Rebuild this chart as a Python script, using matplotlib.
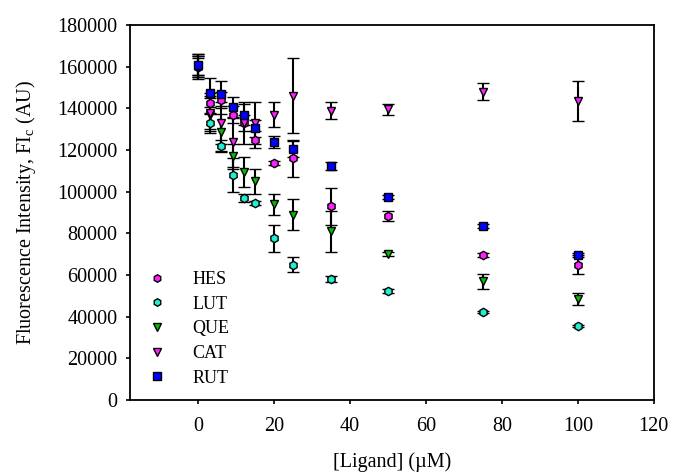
import matplotlib.pyplot as plt

# Concentracion de ligando (uM)
conc = [0, 3, 6, 9, 12, 15, 20, 25, 35, 50, 75, 100]

# Intensidad de fluorescencia por ligando
hes = [160000, 142500, 144000, 137000, 133000, 125000, 114000, 116000, 93000, 88500, 69500, 65000]
hes_err = [4000, 5000, 4000, 4000, 4000, 4000, 1000, 9000, 9000, 2500, 1000, 4500]

lut = [160000, 133000, 122000, 108000, 97000, 94500, 77700, 65000, 58000, 52500, 42500, 35700]
lut_err = [5000, 5000, 3000, 8000, 2000, 1000, 6500, 3500, 1500, 1000, 500, 500]

que = [160000, 137000, 128500, 117000, 109500, 105000, 94000, 89000, 81000, 70000, 57000, 48500]
que_err = [5000, 8000, 9000, 6000, 7000, 6000, 5000, 7500, 10000, 1000, 3500, 3000]

cat = [160000, 138000, 133000, 124000, 133000, 133000, 137000, 146000, 139000, 139500, 148000, 143500]
cat_err = [6000, 8000, 10000, 12000, 10000, 10000, 6000, 18000, 4000, 2500, 4000, 9500]

rut = [161000, 147600, 147000, 140500, 137000, 130500, 124000, 120500, 112500, 97500, 83500, 69500]
rut_err = [5000, 7000, 6000, 5000, 5000, 4000, 3000, 4000, 2000, 1000, 1000, 1000]

series = [
    ("HES", hes, hes_err, "h", "#ff20ff"),
    ("LUT", lut, lut_err, "h", "#20f0d0"),
    ("QUE", que, que_err, "v", "#00c000"),
    ("CAT", cat, cat_err, "v", "#ff20ff"),
    ("RUT", rut, rut_err, "s", "#0000ff"),
]

plt.rcParams["font.family"] = ["Liberation Serif", "DejaVu Serif"]

fig = plt.figure(figsize=(6.74, 4.73), dpi=100)
ax = fig.add_axes([0.193, 0.154, 0.777, 0.793])

for name, vals, errs, mk, col in series:
    ax.errorbar(conc, vals, yerr=errs, fmt=mk, color=col, markersize=6,
                markeredgecolor="black", markeredgewidth=1, ecolor="black",
                elinewidth=1.5, capsize=4, capthick=1.5, label=name)

ax.set_xlim(-18, 120)
ax.set_ylim(0, 180000)
ax.set_xticks(range(0, 121, 20))
ax.set_yticks(range(0, 180001, 20000))
ax.tick_params(direction="out", length=3, width=1.2, labelsize=14.5)
ax.tick_params(axis="x", pad=9)
ax.tick_params(axis="y", pad=6)
for s in ax.spines.values():
    s.set_linewidth(1.3)

ax.set_xlabel("[Ligand] (µM)", fontsize=14.5, labelpad=12)
ax.set_ylabel("Fluorescence Intensity, FI$_\\mathregular{c}$ (AU)", fontsize=14.5,
              labelpad=14)

handles, labels = ax.get_legend_handles_labels()
handles = [h[0] for h in handles]
ax.legend(handles, labels, loc="lower left", bbox_to_anchor=(-0.005, -0.007),
          frameon=False, fontsize=13, handletextpad=1.2, labelspacing=0.42,
          handlelength=1.5, markerscale=0.9)

plt.savefig("out.png", dpi=100)
